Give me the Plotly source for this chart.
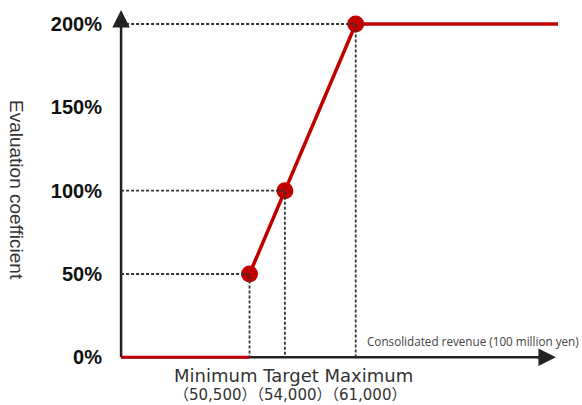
import plotly.graph_objects as go

# Performance-linked evaluation curve
stage_names = ["Minimum", "Target", "Maximum"]
revenue = [50500, 54000, 61000]          # consolidated revenue (100 million yen)
coefficient = [50, 100, 200]             # evaluation coefficient (%)
y_ticks = [0, 50, 100, 150, 200]
y_tick_text = ["0%", "50%", "100%", "150%", "200%"]

X_ORIGIN = 37800      # where the axes cross
X_AXIS_END = 80800    # tip of the horizontal arrow
X_LINE_END = 81000    # end of the capped segment
Y_AXIS_END = 208.4    # tip of the vertical arrow

RED = "#C00000"
AXIS = "#222222"

# Plot-area geometry in pixels, used to place free text
L, T, W, H = 113, 10, 447, 354


def px_to_paper(px, py):
    return (px - L) / W, 1 - (py - T) / H


fig = go.Figure()

# Axis shafts sit beneath the data
fig.add_shape(type="line", xref="x", yref="y", x0=X_ORIGIN, y0=0,
              x1=X_ORIGIN, y1=Y_AXIS_END - 6, layer="below",
              line=dict(color=AXIS, width=2.5))
fig.add_shape(type="line", xref="x", yref="y", x0=X_ORIGIN, y0=0,
              x1=X_AXIS_END - 600, y1=0, layer="below",
              line=dict(color=AXIS, width=2.5))
# Arrow heads
fig.add_annotation(x=X_ORIGIN, y=Y_AXIS_END, ax=X_ORIGIN, ay=Y_AXIS_END - 12,
                   xref="x", yref="y", axref="x", ayref="y",
                   showarrow=True, arrowhead=2, arrowsize=1.4, arrowwidth=2.5,
                   arrowcolor=AXIS, standoff=0, text="")
fig.add_annotation(x=X_AXIS_END, y=0, ax=X_AXIS_END - 2000, ay=0,
                   xref="x", yref="y", axref="x", ayref="y",
                   showarrow=True, arrowhead=2, arrowsize=1.4, arrowwidth=2.5,
                   arrowcolor=AXIS, standoff=0, text="")

# Payout curve: zero below the minimum, linear between thresholds, capped above
fig.add_trace(go.Scatter(x=[X_ORIGIN, revenue[0]], y=[0, 0], mode="lines",
                         line=dict(color=RED, width=3), cliponaxis=False,
                         hoverinfo="skip", showlegend=False))
fig.add_trace(go.Scatter(x=revenue + [X_LINE_END], y=coefficient + [coefficient[-1]],
                         mode="lines", line=dict(color=RED, width=3.5),
                         cliponaxis=False, hoverinfo="skip", showlegend=False))
fig.add_trace(go.Scatter(x=revenue, y=coefficient, mode="markers",
                         marker=dict(color=RED, size=17), cliponaxis=False,
                         hoverinfo="skip", showlegend=False))

# Dashed guide lines from each threshold to both axes
gx, gy = [], []
for r, c in zip(revenue, coefficient):
    gx += [X_ORIGIN, r, r, None]
    gy += [c, c, 0, None]
fig.add_trace(go.Scatter(x=gx, y=gy, mode="lines",
                         line=dict(color="#333333", width=1.8, dash="3px,2px"),
                         cliponaxis=False, hoverinfo="skip", showlegend=False))

# Threshold labels under the horizontal axis
x1, y1 = px_to_paper(293, 376)
fig.add_annotation(xref="paper", yref="paper", x=x1, y=y1, showarrow=False,
                   xanchor="center", yanchor="middle",
                   text=" ".join(stage_names),
                   font=dict(family="DejaVu Sans", size=18, color="#333333"))
x2, y2 = px_to_paper(290, 395)
fig.add_annotation(xref="paper", yref="paper", x=x2, y=y2, showarrow=False,
                   xanchor="center", yanchor="middle",
                   text="".join(f"（{v:,}）" for v in revenue),
                   font=dict(family="DejaVu Sans, Noto Sans CJK JP", size=15,
                             color="#333333"))

# Axis titles
xt, yt = px_to_paper(473, 341)
fig.add_annotation(xref="paper", yref="paper", x=xt, y=yt, showarrow=False,
                   xanchor="center", yanchor="middle",
                   text="Consolidated revenue (100 million yen)",
                   font=dict(family="Open Sans", size=11.7, color="#444444"))
xa, ya = px_to_paper(17, 190)
fig.add_annotation(xref="paper", yref="paper", x=xa, y=ya, showarrow=False,
                   xanchor="center", yanchor="middle", textangle=90,
                   text="Evaluation coefficient",
                   font=dict(family="Liberation Sans", size=19, color="#333333"))

fig.update_layout(
    width=582, height=405,
    margin=dict(l=L, r=582 - L - W, t=T, b=405 - T - H),
    plot_bgcolor="white", paper_bgcolor="white",
    xaxis=dict(range=[37000, 81200], showgrid=False, zeroline=False,
               showline=False, showticklabels=False, ticks=""),
    yaxis=dict(range=[-4, Y_AXIS_END], showgrid=False, zeroline=False,
               showline=False, tickvals=y_ticks, ticktext=y_tick_text, ticks="",
               ticklabelstandoff=10,
               tickfont=dict(family="Liberation Sans", size=20, color="#111111",
                             weight="bold")),
)

fig.write_html("out.html")
